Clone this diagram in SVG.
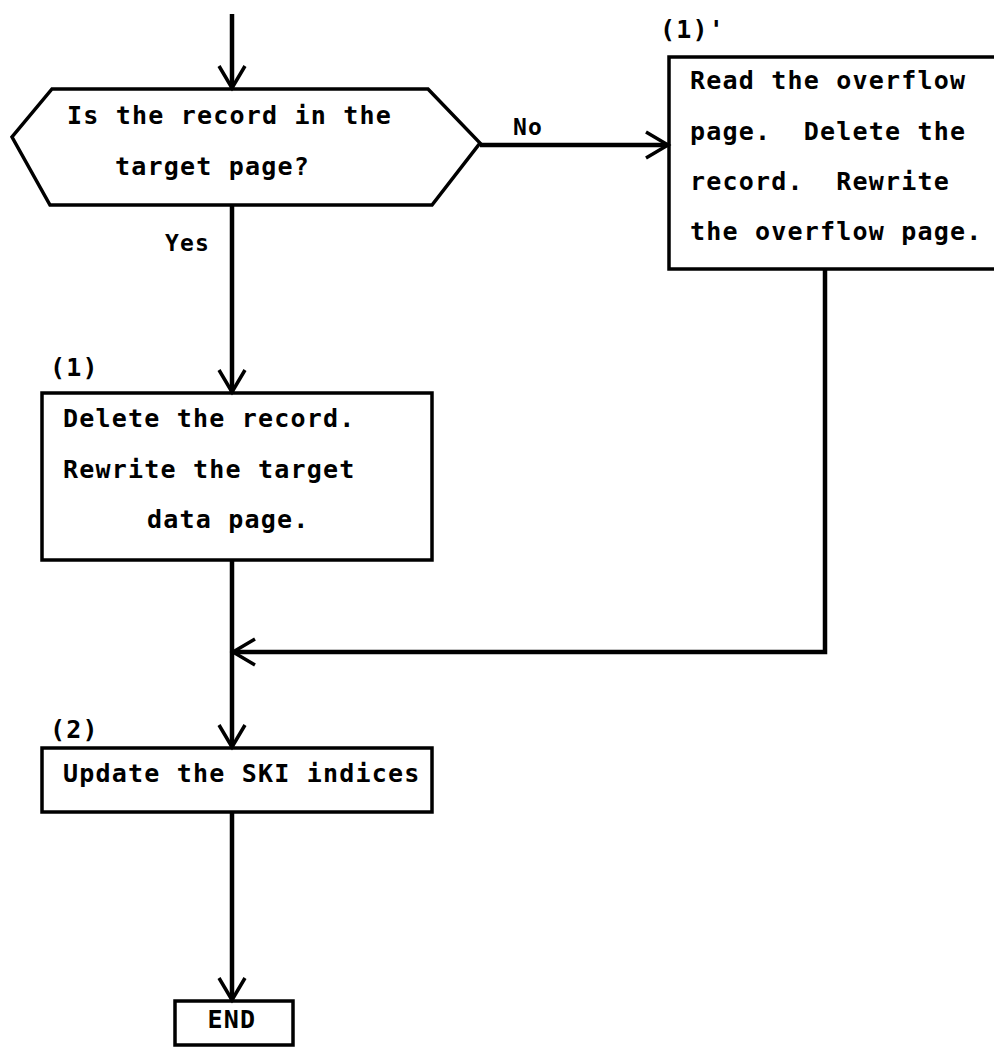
<svg xmlns="http://www.w3.org/2000/svg" width="994" height="1047" viewBox="0 0 994 1047">
<style>
.box{fill:none;stroke:#000;stroke-width:3.5}
.conn{fill:none;stroke:#000;stroke-width:4.5}
text{font-family:"DejaVu Sans Mono","Liberation Mono",monospace;font-weight:bold;font-size:25px;fill:#000;letter-spacing:1.2px;white-space:pre}
.lbl{font-size:23px}
</style>
<defs>
<marker id="arr" markerUnits="userSpaceOnUse" markerWidth="40" markerHeight="40" refX="26" refY="20" orient="auto" overflow="visible">
<path d="M4 7 L26 20 L4 33" fill="none" stroke="#000" stroke-width="3.5"/>
</marker>
</defs>
<rect width="994" height="1047" fill="#fff"/>
<g id="connectors">
<line class="conn" x1="232" y1="14" x2="232" y2="88" marker-end="url(#arr)"/>
<line class="conn" x1="232" y1="206" x2="232" y2="392" marker-end="url(#arr)"/>
<line class="conn" x1="480" y1="145" x2="668" y2="145" marker-end="url(#arr)"/>
<polyline class="conn" points="825,270 825,652 233,652" marker-end="url(#arr)"/>
<line class="conn" x1="232" y1="560" x2="232" y2="747" marker-end="url(#arr)"/>
<line class="conn" x1="232" y1="812" x2="232" y2="1000" marker-end="url(#arr)"/>
<text class="lbl" x="513" y="135">No</text>
<text class="lbl" x="165" y="251">Yes</text>
</g>
<g id="decision">
<polygon class="box" points="52,89 428,89 480,143 432,205 50,205 12,137"/>
<text x="67" y="124">Is the record in the</text>
<text x="115" y="175">target page?</text>
</g>
<g id="overflow">
<path class="box" d="M1000 57 L669 57 L669 269 L1000 269"/>
<text x="660" y="38">(1)'</text>
<text x="690" y="89">Read the overflow</text>
<text x="690" y="140" xml:space="preserve">page.  Delete the</text>
<text x="690" y="190" xml:space="preserve">record.  Rewrite</text>
<text x="690" y="240">the overflow page.</text>
</g>
<g id="delete">
<rect class="box" x="42" y="393" width="390" height="167"/>
<text x="50" y="376">(1)</text>
<text x="63" y="427">Delete the record.</text>
<text x="63" y="478">Rewrite the target</text>
<text x="147" y="528">data page.</text>
</g>
<g id="update">
<rect class="box" x="42" y="748" width="390" height="64"/>
<text x="50" y="738">(2)</text>
<text x="63" y="782">Update the SKI indices</text>
</g>
<g id="end">
<rect class="box" x="175" y="1001" width="118" height="44"/>
<text x="232" y="1028" text-anchor="middle">END</text>
</g>
</svg>
